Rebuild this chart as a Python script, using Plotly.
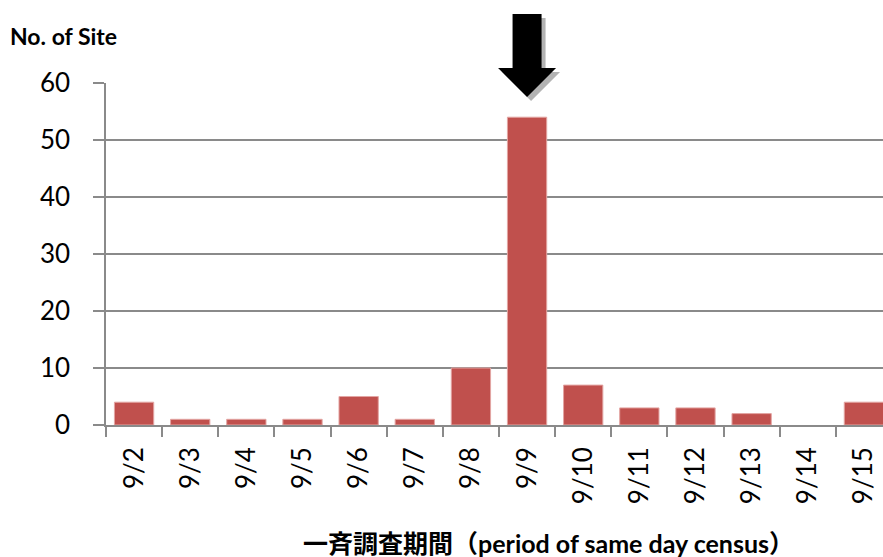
import plotly.graph_objects as go

# Daily counts of sites surveyed during the same-day census
dates = ["9/2", "9/3", "9/4", "9/5", "9/6", "9/7", "9/8",
         "9/9", "9/10", "9/11", "9/12", "9/13", "9/14", "9/15"]
site_counts = [4, 1, 1, 1, 5, 1, 10, 54, 7, 3, 3, 2, 0, 4]
y_ticks = [0, 10, 20, 30, 40, 50, 60]
peak_day = "9/9"

BAR_RED = "#C0504D"
GRID = "#8a8a8a"
FONT = "Lato, Noto Sans CJK JP, sans-serif"
X_RANGE = [-0.5, 13.34]

fig = go.Figure(
    go.Bar(
        x=dates,
        y=site_counts,
        width=0.7,
        marker=dict(
            color=BAR_RED,
            line=dict(color="#e3a5a3", width=[1 if v else 0 for v in site_counts]),
        ),
        hoverinfo="x+y",
    )
)

# Down arrow over the peak day: pixel-sized path anchored at the top of that column
arrow = "M -14.5 69 L 14.5 69 L 14.5 15 L 29 15 L 0 -14 L -29 15 L -14.5 15 Z"
shadow = "M -10.5 65 L 18.5 65 L 18.5 11 L 33 11 L 4 -18 L -25 11 L -10.5 11 Z"
peak_frac = (dates.index(peak_day) - X_RANGE[0]) / (X_RANGE[1] - X_RANGE[0])
shapes = []
for path, colour in ((shadow, "#b3b3b3"), (arrow, "#000000")):
    shapes.append(dict(
        type="path", path=path, xref="paper", yref="paper",
        xsizemode="pixel", ysizemode="pixel",
        xanchor=peak_frac, yanchor=1,
        fillcolor=colour, line=dict(width=0), layer="above",
    ))

fig.update_layout(
    width=883,
    height=557,
    margin=dict(l=106, r=0, t=83, b=132),
    plot_bgcolor="white",
    paper_bgcolor="white",
    showlegend=False,
    bargap=0.3,
    font=dict(family=FONT, color="black"),
    shapes=shapes,
    title=dict(
        text="<b>No. of Site</b>",
        font=dict(family=FONT, size=23, color="black"),
        xref="container", yref="container",
        x=10 / 883, xanchor="left",
        y=1 - 37 / 557, yanchor="middle",
    ),
    annotations=[dict(
        text="<b>一斉調査期間（period of same day census）</b>",
        xref="paper", yref="paper",
        x=0.570, y=-0.345,
        xanchor="center", yanchor="middle",
        showarrow=False,
        font=dict(family=FONT, size=25, color="black"),
    )],
)

fig.update_xaxes(
    type="category",
    range=X_RANGE,
    tickangle=-90,
    tickson="boundaries",
    ticks="outside",
    ticklen=10,
    tickcolor=GRID,
    tickwidth=1.5,
    showline=True,
    linecolor=GRID,
    linewidth=1.5,
    showgrid=False,
    tickfont=dict(family=FONT, size=26, color="black"),
    ticklabelstandoff=10,
)

fig.update_yaxes(
    range=[0, 60],
    tickvals=y_ticks,
    ticks="outside",
    ticklen=11,
    tickcolor=GRID,
    tickwidth=1.5,
    showline=True,
    linecolor=GRID,
    linewidth=1.5,
    showgrid=True,
    gridcolor=GRID,
    gridwidth=1.5,
    zeroline=False,
    tickfont=dict(family=FONT, size=26, color="black"),
    ticklabelstandoff=18,
)

fig.write_html("out.html")
